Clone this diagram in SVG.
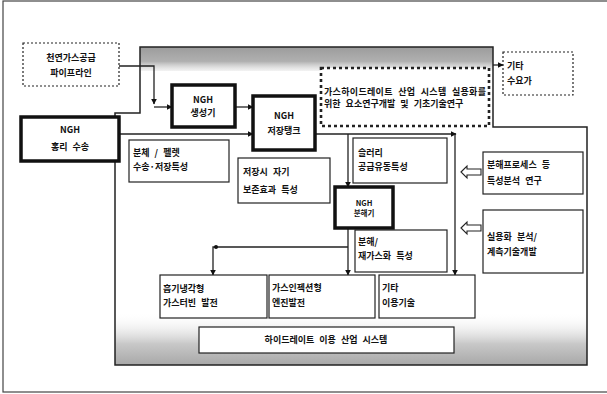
<svg xmlns="http://www.w3.org/2000/svg" width="607" height="394" viewBox="0 0 607 394">
<defs>
<style>
text{font-family:"Noto Sans CJK KR","Noto Sans",sans-serif;font-size:9px;font-weight:bold;fill:#111;word-spacing:3px}
.c{text-anchor:middle}
.thin{fill:#fff;stroke:#222;stroke-width:1.2}
.thick{fill:#fff;stroke:#111;stroke-width:3.5}
.dot{fill:#fff;stroke:#222;stroke-width:1.2;stroke-dasharray:2,2}
.conn{fill:none;stroke:#222;stroke-width:1.3}
.hollow{fill:#fff;stroke:#222;stroke-width:1.1}
</style>
<marker id="ah" viewBox="0 0 10 10" refX="9" refY="5" markerWidth="6" markerHeight="6" orient="auto" markerUnits="userSpaceOnUse">
<path d="M0,0 L10,5 L0,10 Z" fill="#111"/>
</marker>
<linearGradient id="topShade" x1="0" y1="0" x2="0" y2="1">
<stop offset="0" stop-color="#9c9c9c"/>
<stop offset="0.6" stop-color="#b0b0b0"/>
<stop offset="1" stop-color="#e6e6e6" stop-opacity="0.5"/>
</linearGradient>
<linearGradient id="botShade" x1="0" y1="0" x2="0" y2="1">
<stop offset="0" stop-color="#ffffff" stop-opacity="0"/>
<stop offset="0.6" stop-color="#c8c8c8"/>
<stop offset="1" stop-color="#a8a8a8"/>
</linearGradient>
<clipPath id="panelClip">
<path d="M140,47 H493 V127 H587 V365 H115 V113 H140 Z"/>
</clipPath>
</defs>

<rect x="3" y="1" width="620" height="391" fill="#fff" stroke="#444" stroke-width="1.2"/>

<g id="panel">
<path d="M140,47 H493 V127 H587 V365 H115 V113 H140 Z" fill="#fff"/>
<g clip-path="url(#panelClip)">
<rect x="115" y="47" width="378" height="24" fill="url(#topShade)"/>
<rect x="115" y="312" width="472" height="53" fill="url(#botShade)"/>
</g>
<path d="M140,47 H493 V127 H587 V365 H115 V113 H140 Z" fill="none" stroke="#222" stroke-width="1.5"/>
</g>

<g id="connectors">
<path class="conn" d="M119,66 H154 V104" marker-end="url(#ah)"/>
<path class="conn" d="M154,107 H172" marker-end="url(#ah)"/>
<path class="conn" d="M235,107 H253" marker-end="url(#ah)"/>
<path class="conn" d="M119,134 H253" marker-end="url(#ah)"/>
<path class="conn" d="M315,134 H456" marker-end="url(#ah)"/>
<path class="conn" d="M455,134 V275" marker-end="url(#ah)"/>
<path class="conn" d="M348,134 V187" marker-end="url(#ah)"/>
<path class="conn" d="M348,228 V275" marker-end="url(#ah)"/>
<path class="conn" d="M348,247 H213 V275" marker-end="url(#ah)"/>
<circle cx="216" cy="247" r="2" fill="#111"/>
<path class="conn" d="M493,65 H503" marker-end="url(#ah)"/>
<path class="hollow" d="M461,172 L467,166 L467,169 L481,169 L481,175 L467,175 L467,178 Z"/>
<path class="hollow" d="M461,228 L467,222 L467,225 L481,225 L481,231 L467,231 L467,234 Z"/>
</g>

<g id="n-pipeline">
<rect class="dot" x="23" y="43" width="96" height="43"/>
<text class="c" x="71" y="61">천연가스공급</text>
<text class="c" x="71" y="76">파이프라인</text>
</g>

<g id="n-transport">
<rect class="thick" x="21" y="117" width="98" height="44"/>
<text class="c" x="70" y="133">NGH</text>
<text class="c" x="70" y="150">홍리 수송</text>
</g>

<g id="n-generator">
<rect class="thick" x="172" y="85" width="63" height="42"/>
<text class="c" x="203" y="103">NGH</text>
<text class="c" x="203" y="116">생성기</text>
</g>

<g id="n-tank">
<rect class="thick" x="253" y="96" width="62" height="54"/>
<text class="c" x="284" y="119">NGH</text>
<text class="c" x="284" y="134">저장탱크</text>
</g>

<g id="n-research">
<rect x="321" y="68" width="168" height="58" fill="#fff" stroke="#222" stroke-width="2.6" stroke-dasharray="3,3"/>
<text x="324" y="95" textLength="162" lengthAdjust="spacing">가스하이드레이트 산업 시스템 실용화를</text>
<text x="324" y="107">위한 요소연구개발 및 기초기술연구</text>
</g>

<g id="n-demand">
<rect class="dot" x="503" y="52" width="70" height="43"/>
<text x="507" y="69">기타</text>
<text x="507" y="84">수요가</text>
</g>

<g id="n-pellet">
<rect class="thin" x="129" y="140" width="100" height="42"/>
<text x="133" y="156">분체 / 펠렛</text>
<text x="133" y="170" style="word-spacing:0">수송·저장특성</text>
</g>

<g id="n-selfpres">
<rect class="thin" x="238" y="158" width="92" height="45"/>
<text x="243" y="175">저장시 자기</text>
<text x="243" y="193">보존효과 특성</text>
</g>

<g id="n-slurry">
<rect class="thin" x="353" y="138" width="94" height="45"/>
<text x="358" y="156">슬러리</text>
<text x="358" y="170">공급유동특성</text>
</g>

<g id="n-decomposer">
<rect class="thick" x="335" y="187" width="58" height="41"/>
<text class="c" x="364" y="206" style="font-size:7.5px">NGH</text>
<text class="c" x="364" y="216" style="font-size:7.5px">분해기</text>
</g>

<g id="n-regas">
<rect class="thin" x="355" y="230" width="92" height="42"/>
<text x="358" y="245">분해/</text>
<text x="358" y="259">재가스화 특성</text>
</g>

<g id="n-process">
<rect class="thin" x="483" y="152" width="100" height="42"/>
<text x="487" y="168">분해프로세스 등</text>
<text x="487" y="184">특성분석 연구</text>
</g>

<g id="n-measure">
<rect class="thin" x="483" y="210" width="100" height="63"/>
<text x="487" y="240">실용화 분석/</text>
<text x="487" y="255">계측기술개발</text>
</g>

<g id="n-turbine">
<rect class="thin" x="160" y="275" width="107" height="43"/>
<text x="163" y="292">흡기냉각형</text>
<text x="163" y="306">가스터빈 발전</text>
</g>

<g id="n-engine">
<rect class="thin" x="269" y="275" width="106" height="43"/>
<text x="272" y="291">가스인젝션형</text>
<text x="272" y="306">엔진발전</text>
</g>

<g id="n-other">
<rect class="thin" x="379" y="275" width="96" height="43"/>
<text x="382" y="291">기타</text>
<text x="382" y="306">이용기술</text>
</g>

<g id="n-system">
<rect class="thin" x="199" y="327" width="255" height="26"/>
<text class="c" x="326" y="343">하이드레이트 이용 산업 시스템</text>
</g>
</svg>
